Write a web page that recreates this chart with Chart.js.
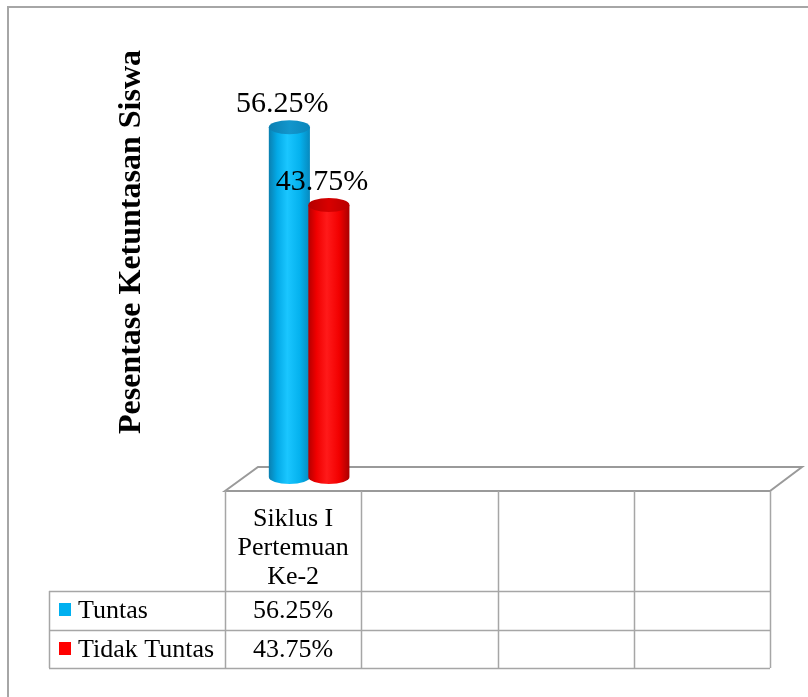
<!DOCTYPE html>
<html>
<head>
<meta charset="utf-8">
<title>Pesentase Ketuntasan Siswa</title>
<script src="https://cdn.jsdelivr.net/npm/chart.js@4.4.0/dist/chart.umd.min.js"></script>
<style>
    html, body { margin: 0; padding: 0; background: #fff; }
    #wrap { width: 808px; height: 697px; }
</style>
</head>
<body>
<div id="wrap"><canvas id="chart" width="808" height="697"></canvas></div>
<script>
// Chart data
var categories = [['Siklus I', 'Pertemuan', 'Ke-2'], [], [], []];
var seriesNames = ['Tuntas', 'Tidak Tuntas'];
var tuntas = [56.25, null, null, null];
var tidakTuntas = [43.75, null, null, null];
var axisTitle = 'Pesentase Ketuntasan Siswa';

var colors = ['#00b0f0', '#ff0000'];
var serif = '"Liberation Serif", "Times New Roman", serif';
var gridGray = '#a6a6a6';

function fmt(v) {
    return v.toFixed(2) + '%';
}

// Cylinder shading per series
var shades = [
    { body: ['#0a7fb0', '#03a9e6', '#1ac6ff', '#05b2ee', '#0789be'], top: ['#0b7fb2', '#1396cc', '#0a86bb'] },
    { body: ['#b50000', '#f00000', '#ff1a1a', '#f20000', '#a80000'], top: ['#b40000', '#d80000', '#b80000'] }
];

var cylinderPlugin = {
    id: 'cylinders',
    beforeDatasetsDraw: function(chart) {
        var ctx = chart.ctx;
        var area = chart.chartArea;
        var base = chart.scales.y.getPixelForValue(0);

        // outer frame
        ctx.save();
        ctx.strokeStyle = gridGray;
        ctx.lineWidth = 2;
        ctx.beginPath();
        ctx.moveTo(8, 697);
        ctx.lineTo(8, 7);
        ctx.lineTo(808, 7);
        ctx.stroke();

        // floor
        var fy = base + 14, by = base - 10;
        ctx.lineWidth = 2;
        ctx.strokeStyle = '#9a9a9a';
        ctx.beginPath();
        ctx.moveTo(area.left - 16, fy);
        ctx.lineTo(area.left + 17, by);
        ctx.lineTo(area.right + 16, by);
        ctx.lineTo(area.right - 16, fy);
        ctx.closePath();
        ctx.stroke();

        // axis title
        ctx.fillStyle = '#000';
        ctx.font = 'bold 32px ' + serif;
        ctx.textAlign = 'center';
        ctx.textBaseline = 'middle';
        ctx.translate(132, 242);
        ctx.rotate(-Math.PI / 2);
        ctx.fillText(axisTitle, 0, 0);
        ctx.restore();
    },
    afterDatasetsDraw: function(chart) {
        var ctx = chart.ctx;
        var ry = 7;
        ctx.save();
        chart.data.datasets.forEach(function(ds, i) {
            var meta = chart.getDatasetMeta(i);
            meta.data.forEach(function(bar, j) {
                if (ds.data[j] == null) return;
                var rx = bar.width / 2;
                var x0 = bar.x - rx, x1 = bar.x + rx;
                var g = ctx.createLinearGradient(x0, 0, x1, 0);
                var s = shades[i].body;
                g.addColorStop(0, s[0]);
                g.addColorStop(0.2, s[1]);
                g.addColorStop(0.45, s[2]);
                g.addColorStop(0.75, s[3]);
                g.addColorStop(1, s[4]);
                // body with rounded bottom
                ctx.fillStyle = g;
                ctx.beginPath();
                ctx.moveTo(x0, bar.y);
                ctx.lineTo(x0, bar.base);
                ctx.ellipse(bar.x, bar.base, rx, ry, 0, Math.PI, 0, true);
                ctx.lineTo(x1, bar.y);
                ctx.closePath();
                ctx.fill();
                // top cap
                var t = shades[i].top;
                var tg = ctx.createLinearGradient(x0, 0, x1, 0);
                tg.addColorStop(0, t[0]);
                tg.addColorStop(0.5, t[1]);
                tg.addColorStop(1, t[2]);
                ctx.fillStyle = tg;
                ctx.beginPath();
                ctx.ellipse(bar.x, bar.y, rx, ry, 0, 0, Math.PI * 2);
                ctx.fill();
            });
        });

        // value labels
        ctx.fillStyle = '#000';
        ctx.font = '30px ' + serif;
        ctx.textAlign = 'center';
        ctx.textBaseline = 'alphabetic';
        chart.data.datasets.forEach(function(ds, i) {
            chart.getDatasetMeta(i).data.forEach(function(bar, j) {
                if (ds.data[j] == null) return;
                ctx.fillText(fmt(ds.data[j]), bar.x - 7, bar.y - 15);
            });
        });
        ctx.restore();
    },
    afterDraw: function(chart) {
        // data table under the floor
        var ctx = chart.ctx;
        var area = chart.chartArea;
        var base = chart.scales.y.getPixelForValue(0);
        var left = area.left - 16, right = area.right - 16;
        var top = base + 14;
        var rows = [top, 591, 630, 668];
        var legendLeft = 49;
        var n = categories.length;
        var colW = (right - left) / n;

        ctx.save();
        ctx.strokeStyle = gridGray;
        ctx.lineWidth = 1.5;
        ctx.beginPath();
        for (var c = 0; c <= n; c++) {
            var x = Math.round(left + c * colW) + 0.5;
            ctx.moveTo(x, top);
            ctx.lineTo(x, rows[3]);
        }
        ctx.moveTo(legendLeft + 0.5, rows[1]);
        ctx.lineTo(legendLeft + 0.5, rows[3]);
        for (var r = 1; r < rows.length; r++) {
            ctx.moveTo(legendLeft, rows[r] + 0.5);
            ctx.lineTo(right, rows[r] + 0.5);
        }
        ctx.stroke();

        ctx.fillStyle = '#000';
        ctx.font = '26px ' + serif;
        ctx.textAlign = 'center';
        ctx.textBaseline = 'alphabetic';
        categories.forEach(function(lines, c) {
            var cx = left + (c + 0.5) * colW;
            lines.forEach(function(line, k) {
                ctx.fillText(line, cx, 526 + k * 29);
            });
        });

        var series = [tuntas, tidakTuntas];
        series.forEach(function(vals, s) {
            var baseline = rows[s + 1] + 27;
            ctx.fillStyle = colors[s];
            ctx.fillRect(59, baseline - 15, 12, 13);
            ctx.fillStyle = '#000';
            ctx.textAlign = 'left';
            ctx.fillText(seriesNames[s], 78, baseline);
            ctx.textAlign = 'center';
            vals.forEach(function(v, c) {
                if (v == null) return;
                ctx.fillText(fmt(v), left + (c + 0.5) * colW, baseline);
            });
        });
        ctx.restore();
    }
};

new Chart(document.getElementById('chart'), {
    type: 'bar',
    data: {
        labels: categories.map(function(c) { return c.join(' '); }),
        datasets: [
            { label: seriesNames[0], data: tuntas, backgroundColor: 'rgba(0,0,0,0)' },
            { label: seriesNames[1], data: tidakTuntas, backgroundColor: 'rgba(0,0,0,0)' }
        ]
    },
    options: {
        responsive: false,
        animation: false,
        events: [],
        categoryPercentage: 0.58,
        barPercentage: 1.04,
        layout: { padding: { left: 241, right: 22, top: 104, bottom: 220 } },
        plugins: { legend: { display: false }, tooltip: { enabled: false } },
        scales: {
            x: { display: false },
            y: { display: false, min: 0, max: 60 }
        }
    },
    plugins: [cylinderPlugin]
});
</script>
</body>
</html>
